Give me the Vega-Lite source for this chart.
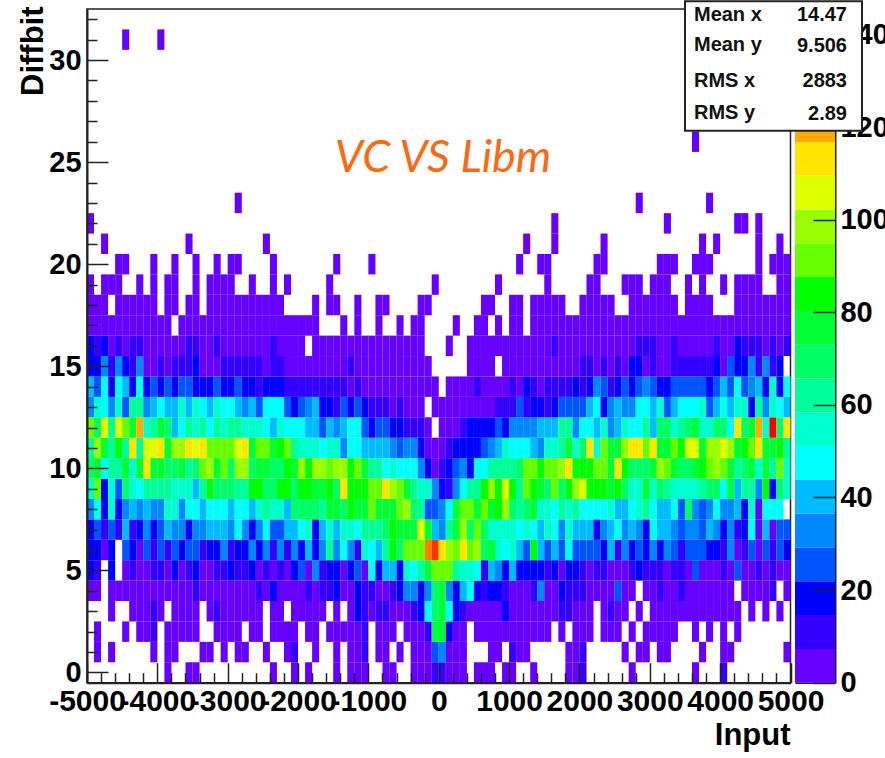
{"$schema":"https://vega.github.io/schema/vega-lite/v6.json","padding":{"left":16,"top":0,"right":0,"bottom":0},"background":"white","config":{"font":"Liberation Sans"},"spacing":4,"bounds":"flush","hconcat":[{"width":703.5,"height":673.7,"view":{"stroke":"#222","strokeWidth":1.5},"data":{"values":[
{"x":-3850,"y":0,"n":4},{"x":-3550,"y":0,"n":4},{"x":-3450,"y":0,"n":4},{"x":-2350,"y":0,"n":4},{"x":-2050,"y":0,"n":4},{"x":-1850,"y":0,"n":4},{"x":-1450,"y":0,"n":4},{"x":-1250,"y":0,"n":4},{"x":-1150,"y":0,"n":4},{"x":-1050,"y":0,"n":4},{"x":-750,"y":0,"n":4},{"x":-650,"y":0,"n":4},{"x":-350,"y":0,"n":4},{"x":-250,"y":0,"n":4},{"x":-150,"y":0,"n":4},{"x":-50,"y":0,"n":11},{"x":50,"y":0,"n":11},{"x":150,"y":0,"n":4},{"x":250,"y":0,"n":4},{"x":350,"y":0,"n":4},{"x":550,"y":0,"n":4},{"x":650,"y":0,"n":4},{"x":750,"y":0,"n":4},{"x":950,"y":0,"n":4},{"x":1050,"y":0,"n":4},{"x":1350,"y":0,"n":4},{"x":1850,"y":0,"n":4},{"x":1950,"y":0,"n":4},{"x":2050,"y":0,"n":11},{"x":2750,"y":0,"n":4},{"x":3650,"y":0,"n":4},{"x":4050,"y":0,"n":11},
{"x":-4850,"y":1,"n":4},{"x":-4650,"y":1,"n":4},{"x":-4050,"y":1,"n":4},{"x":-3850,"y":1,"n":4},{"x":-3750,"y":1,"n":4},{"x":-3350,"y":1,"n":4},{"x":-3250,"y":1,"n":4},{"x":-3050,"y":1,"n":4},{"x":-2850,"y":1,"n":4},{"x":-2750,"y":1,"n":4},{"x":-2450,"y":1,"n":4},{"x":-2150,"y":1,"n":4},{"x":-2050,"y":1,"n":11},{"x":-1750,"y":1,"n":4},{"x":-1450,"y":1,"n":4},{"x":-1250,"y":1,"n":4},{"x":-1150,"y":1,"n":4},{"x":-1050,"y":1,"n":11},{"x":-850,"y":1,"n":4},{"x":-750,"y":1,"n":4},{"x":-550,"y":1,"n":4},{"x":-350,"y":1,"n":4},{"x":-250,"y":1,"n":4},{"x":-150,"y":1,"n":4},{"x":-50,"y":1,"n":26},{"x":50,"y":1,"n":33},{"x":150,"y":1,"n":4},{"x":250,"y":1,"n":4},{"x":350,"y":1,"n":4},{"x":750,"y":1,"n":4},{"x":850,"y":1,"n":4},{"x":1050,"y":1,"n":11},{"x":1150,"y":1,"n":4},{"x":1250,"y":1,"n":4},{"x":1850,"y":1,"n":4},{"x":1950,"y":1,"n":4},{"x":2050,"y":1,"n":11},{"x":2650,"y":1,"n":4},{"x":2850,"y":1,"n":4},{"x":2950,"y":1,"n":4},{"x":3150,"y":1,"n":4},{"x":3250,"y":1,"n":4},{"x":3750,"y":1,"n":4},{"x":4050,"y":1,"n":4},{"x":4150,"y":1,"n":4},{"x":4950,"y":1,"n":4},
{"x":-4850,"y":2,"n":4},{"x":-4450,"y":2,"n":4},{"x":-4250,"y":2,"n":4},{"x":-4150,"y":2,"n":4},{"x":-4050,"y":2,"n":11},{"x":-3850,"y":2,"n":4},{"x":-3750,"y":2,"n":4},{"x":-3650,"y":2,"n":4},{"x":-3550,"y":2,"n":4},{"x":-3450,"y":2,"n":4},{"x":-3150,"y":2,"n":4},{"x":-3050,"y":2,"n":4},{"x":-2950,"y":2,"n":4},{"x":-2850,"y":2,"n":4},{"x":-2650,"y":2,"n":4},{"x":-2550,"y":2,"n":4},{"x":-2350,"y":2,"n":4},{"x":-2250,"y":2,"n":4},{"x":-2150,"y":2,"n":4},{"x":-2050,"y":2,"n":4},{"x":-1850,"y":2,"n":4},{"x":-1750,"y":2,"n":4},{"x":-1550,"y":2,"n":4},{"x":-1450,"y":2,"n":4},{"x":-1350,"y":2,"n":4},{"x":-1250,"y":2,"n":4},{"x":-1150,"y":2,"n":4},{"x":-1050,"y":2,"n":11},{"x":-850,"y":2,"n":4},{"x":-750,"y":2,"n":4},{"x":-650,"y":2,"n":4},{"x":-450,"y":2,"n":4},{"x":-350,"y":2,"n":4},{"x":-250,"y":2,"n":4},{"x":-150,"y":2,"n":11},{"x":-50,"y":2,"n":77},{"x":50,"y":2,"n":77},{"x":150,"y":2,"n":18},{"x":250,"y":2,"n":4},{"x":350,"y":2,"n":4},{"x":550,"y":2,"n":4},{"x":650,"y":2,"n":4},{"x":750,"y":2,"n":4},{"x":850,"y":2,"n":4},{"x":950,"y":2,"n":4},{"x":1050,"y":2,"n":4},{"x":1150,"y":2,"n":4},{"x":1250,"y":2,"n":4},{"x":1350,"y":2,"n":4},{"x":1450,"y":2,"n":4},{"x":1550,"y":2,"n":4},{"x":1750,"y":2,"n":4},{"x":1950,"y":2,"n":4},{"x":2050,"y":2,"n":4},{"x":2150,"y":2,"n":4},{"x":2350,"y":2,"n":4},{"x":2450,"y":2,"n":4},{"x":2550,"y":2,"n":4},{"x":2750,"y":2,"n":4},{"x":2950,"y":2,"n":4},{"x":3050,"y":2,"n":4},{"x":3150,"y":2,"n":4},{"x":3250,"y":2,"n":4},{"x":3350,"y":2,"n":4},{"x":3650,"y":2,"n":4},{"x":3850,"y":2,"n":4},{"x":4050,"y":2,"n":4},{"x":4250,"y":2,"n":4},
{"x":-4650,"y":3,"n":4},{"x":-4350,"y":3,"n":4},{"x":-4250,"y":3,"n":4},{"x":-4150,"y":3,"n":4},{"x":-4050,"y":3,"n":11},{"x":-3950,"y":3,"n":4},{"x":-3750,"y":3,"n":4},{"x":-3650,"y":3,"n":4},{"x":-3550,"y":3,"n":4},{"x":-3450,"y":3,"n":4},{"x":-3250,"y":3,"n":4},{"x":-3150,"y":3,"n":11},{"x":-3050,"y":3,"n":4},{"x":-2950,"y":3,"n":4},{"x":-2850,"y":3,"n":4},{"x":-2750,"y":3,"n":4},{"x":-2650,"y":3,"n":4},{"x":-2550,"y":3,"n":4},{"x":-2350,"y":3,"n":4},{"x":-2250,"y":3,"n":4},{"x":-2050,"y":3,"n":4},{"x":-1950,"y":3,"n":4},{"x":-1850,"y":3,"n":4},{"x":-1750,"y":3,"n":4},{"x":-1650,"y":3,"n":4},{"x":-1450,"y":3,"n":4},{"x":-1250,"y":3,"n":4},{"x":-1150,"y":3,"n":18},{"x":-1050,"y":3,"n":11},{"x":-950,"y":3,"n":4},{"x":-850,"y":3,"n":11},{"x":-750,"y":3,"n":11},{"x":-650,"y":3,"n":4},{"x":-550,"y":3,"n":4},{"x":-450,"y":3,"n":4},{"x":-350,"y":3,"n":11},{"x":-250,"y":3,"n":18},{"x":-150,"y":3,"n":47},{"x":-50,"y":3,"n":69},{"x":50,"y":3,"n":77},{"x":150,"y":3,"n":47},{"x":250,"y":3,"n":18},{"x":350,"y":3,"n":11},{"x":450,"y":3,"n":4},{"x":550,"y":3,"n":4},{"x":650,"y":3,"n":4},{"x":750,"y":3,"n":4},{"x":850,"y":3,"n":4},{"x":950,"y":3,"n":18},{"x":1050,"y":3,"n":4},{"x":1150,"y":3,"n":4},{"x":1250,"y":3,"n":4},{"x":1350,"y":3,"n":4},{"x":1450,"y":3,"n":4},{"x":1550,"y":3,"n":4},{"x":1650,"y":3,"n":4},{"x":1750,"y":3,"n":11},{"x":1850,"y":3,"n":11},{"x":1950,"y":3,"n":4},{"x":2050,"y":3,"n":4},{"x":2150,"y":3,"n":4},{"x":2350,"y":3,"n":4},{"x":2450,"y":3,"n":11},{"x":2550,"y":3,"n":4},{"x":2650,"y":3,"n":4},{"x":2850,"y":3,"n":4},{"x":3050,"y":3,"n":4},{"x":3150,"y":3,"n":4},{"x":3250,"y":3,"n":4},{"x":3350,"y":3,"n":4},{"x":3450,"y":3,"n":4},{"x":3550,"y":3,"n":4},{"x":3650,"y":3,"n":4},{"x":3750,"y":3,"n":4},{"x":3850,"y":3,"n":4},{"x":3950,"y":3,"n":4},{"x":4050,"y":3,"n":4},{"x":4150,"y":3,"n":4},{"x":4250,"y":3,"n":4},{"x":4450,"y":3,"n":4},{"x":4650,"y":3,"n":4},{"x":4850,"y":3,"n":4},
{"x":-4950,"y":4,"n":4},{"x":-4850,"y":4,"n":4},{"x":-4650,"y":4,"n":4},{"x":-4550,"y":4,"n":4},{"x":-4450,"y":4,"n":4},{"x":-4350,"y":4,"n":4},{"x":-4250,"y":4,"n":4},{"x":-4150,"y":4,"n":4},{"x":-4050,"y":4,"n":4},{"x":-3950,"y":4,"n":4},{"x":-3850,"y":4,"n":4},{"x":-3750,"y":4,"n":4},{"x":-3650,"y":4,"n":4},{"x":-3550,"y":4,"n":4},{"x":-3450,"y":4,"n":11},{"x":-3350,"y":4,"n":4},{"x":-3250,"y":4,"n":4},{"x":-3150,"y":4,"n":4},{"x":-3050,"y":4,"n":4},{"x":-2950,"y":4,"n":4},{"x":-2850,"y":4,"n":4},{"x":-2750,"y":4,"n":4},{"x":-2650,"y":4,"n":4},{"x":-2550,"y":4,"n":11},{"x":-2450,"y":4,"n":4},{"x":-2350,"y":4,"n":18},{"x":-2250,"y":4,"n":4},{"x":-2150,"y":4,"n":4},{"x":-2050,"y":4,"n":4},{"x":-1950,"y":4,"n":4},{"x":-1850,"y":4,"n":11},{"x":-1750,"y":4,"n":4},{"x":-1650,"y":4,"n":11},{"x":-1550,"y":4,"n":11},{"x":-1450,"y":4,"n":18},{"x":-1350,"y":4,"n":4},{"x":-1250,"y":4,"n":4},{"x":-1150,"y":4,"n":18},{"x":-1050,"y":4,"n":11},{"x":-950,"y":4,"n":11},{"x":-850,"y":4,"n":4},{"x":-750,"y":4,"n":4},{"x":-650,"y":4,"n":11},{"x":-550,"y":4,"n":18},{"x":-450,"y":4,"n":33},{"x":-350,"y":4,"n":33},{"x":-250,"y":4,"n":18},{"x":-150,"y":4,"n":33},{"x":-50,"y":4,"n":69},{"x":50,"y":4,"n":77},{"x":150,"y":4,"n":33},{"x":250,"y":4,"n":18},{"x":350,"y":4,"n":40},{"x":450,"y":4,"n":47},{"x":550,"y":4,"n":18},{"x":650,"y":4,"n":11},{"x":750,"y":4,"n":18},{"x":850,"y":4,"n":18},{"x":950,"y":4,"n":11},{"x":1050,"y":4,"n":4},{"x":1150,"y":4,"n":4},{"x":1250,"y":4,"n":4},{"x":1350,"y":4,"n":11},{"x":1450,"y":4,"n":33},{"x":1550,"y":4,"n":4},{"x":1650,"y":4,"n":4},{"x":1750,"y":4,"n":18},{"x":1850,"y":4,"n":11},{"x":1950,"y":4,"n":11},{"x":2050,"y":4,"n":11},{"x":2150,"y":4,"n":4},{"x":2250,"y":4,"n":4},{"x":2350,"y":4,"n":4},{"x":2450,"y":4,"n":4},{"x":2550,"y":4,"n":26},{"x":2650,"y":4,"n":4},{"x":2750,"y":4,"n":4},{"x":2950,"y":4,"n":4},{"x":3050,"y":4,"n":4},{"x":3150,"y":4,"n":11},{"x":3250,"y":4,"n":4},{"x":3350,"y":4,"n":4},{"x":3450,"y":4,"n":11},{"x":3550,"y":4,"n":4},{"x":3650,"y":4,"n":4},{"x":3750,"y":4,"n":4},{"x":3850,"y":4,"n":4},{"x":3950,"y":4,"n":4},{"x":4050,"y":4,"n":4},{"x":4150,"y":4,"n":4},{"x":4350,"y":4,"n":4},{"x":4450,"y":4,"n":4},{"x":4550,"y":4,"n":4},{"x":4650,"y":4,"n":4},{"x":4750,"y":4,"n":11},{"x":4950,"y":4,"n":4},
{"x":-4950,"y":5,"n":18},{"x":-4850,"y":5,"n":11},{"x":-4650,"y":5,"n":18},{"x":-4450,"y":5,"n":4},{"x":-4350,"y":5,"n":11},{"x":-4250,"y":5,"n":4},{"x":-4150,"y":5,"n":4},{"x":-4050,"y":5,"n":11},{"x":-3950,"y":5,"n":11},{"x":-3850,"y":5,"n":4},{"x":-3750,"y":5,"n":18},{"x":-3650,"y":5,"n":4},{"x":-3550,"y":5,"n":11},{"x":-3450,"y":5,"n":18},{"x":-3350,"y":5,"n":4},{"x":-3250,"y":5,"n":4},{"x":-3150,"y":5,"n":11},{"x":-3050,"y":5,"n":11},{"x":-2950,"y":5,"n":18},{"x":-2850,"y":5,"n":11},{"x":-2750,"y":5,"n":11},{"x":-2650,"y":5,"n":18},{"x":-2550,"y":5,"n":4},{"x":-2450,"y":5,"n":11},{"x":-2350,"y":5,"n":4},{"x":-2250,"y":5,"n":11},{"x":-2150,"y":5,"n":4},{"x":-2050,"y":5,"n":18},{"x":-1950,"y":5,"n":26},{"x":-1850,"y":5,"n":4},{"x":-1750,"y":5,"n":33},{"x":-1650,"y":5,"n":11},{"x":-1550,"y":5,"n":18},{"x":-1450,"y":5,"n":18},{"x":-1350,"y":5,"n":4},{"x":-1250,"y":5,"n":18},{"x":-1150,"y":5,"n":26},{"x":-1050,"y":5,"n":4},{"x":-950,"y":5,"n":47},{"x":-850,"y":5,"n":18},{"x":-750,"y":5,"n":40},{"x":-650,"y":5,"n":40},{"x":-550,"y":5,"n":18},{"x":-450,"y":5,"n":55},{"x":-350,"y":5,"n":47},{"x":-250,"y":5,"n":62},{"x":-150,"y":5,"n":77},{"x":-50,"y":5,"n":91},{"x":50,"y":5,"n":91},{"x":150,"y":5,"n":91},{"x":250,"y":5,"n":62},{"x":350,"y":5,"n":55},{"x":450,"y":5,"n":55},{"x":550,"y":5,"n":47},{"x":650,"y":5,"n":11},{"x":750,"y":5,"n":40},{"x":850,"y":5,"n":33},{"x":950,"y":5,"n":18},{"x":1050,"y":5,"n":40},{"x":1150,"y":5,"n":18},{"x":1250,"y":5,"n":18},{"x":1350,"y":5,"n":18},{"x":1450,"y":5,"n":18},{"x":1550,"y":5,"n":11},{"x":1650,"y":5,"n":18},{"x":1750,"y":5,"n":4},{"x":1850,"y":5,"n":18},{"x":1950,"y":5,"n":18},{"x":2050,"y":5,"n":11},{"x":2150,"y":5,"n":4},{"x":2250,"y":5,"n":11},{"x":2350,"y":5,"n":11},{"x":2450,"y":5,"n":4},{"x":2550,"y":5,"n":4},{"x":2650,"y":5,"n":4},{"x":2750,"y":5,"n":11},{"x":2850,"y":5,"n":18},{"x":2950,"y":5,"n":11},{"x":3050,"y":5,"n":11},{"x":3150,"y":5,"n":11},{"x":3250,"y":5,"n":4},{"x":3350,"y":5,"n":11},{"x":3450,"y":5,"n":11},{"x":3550,"y":5,"n":4},{"x":3650,"y":5,"n":26},{"x":3750,"y":5,"n":4},{"x":3850,"y":5,"n":4},{"x":3950,"y":5,"n":4},{"x":4050,"y":5,"n":11},{"x":4150,"y":5,"n":4},{"x":4250,"y":5,"n":26},{"x":4350,"y":5,"n":4},{"x":4450,"y":5,"n":4},{"x":4550,"y":5,"n":11},{"x":4650,"y":5,"n":4},{"x":4750,"y":5,"n":11},{"x":4850,"y":5,"n":4},{"x":4950,"y":5,"n":4},
{"x":-4950,"y":6,"n":18},{"x":-4850,"y":6,"n":18},{"x":-4750,"y":6,"n":4},{"x":-4650,"y":6,"n":18},{"x":-4450,"y":6,"n":26},{"x":-4350,"y":6,"n":18},{"x":-4250,"y":6,"n":4},{"x":-4150,"y":6,"n":26},{"x":-4050,"y":6,"n":11},{"x":-3950,"y":6,"n":26},{"x":-3850,"y":6,"n":11},{"x":-3750,"y":6,"n":26},{"x":-3650,"y":6,"n":18},{"x":-3550,"y":6,"n":26},{"x":-3450,"y":6,"n":26},{"x":-3350,"y":6,"n":11},{"x":-3250,"y":6,"n":18},{"x":-3150,"y":6,"n":18},{"x":-3050,"y":6,"n":33},{"x":-2950,"y":6,"n":11},{"x":-2850,"y":6,"n":18},{"x":-2750,"y":6,"n":18},{"x":-2650,"y":6,"n":33},{"x":-2550,"y":6,"n":18},{"x":-2450,"y":6,"n":33},{"x":-2350,"y":6,"n":11},{"x":-2250,"y":6,"n":33},{"x":-2150,"y":6,"n":11},{"x":-2050,"y":6,"n":33},{"x":-1950,"y":6,"n":18},{"x":-1850,"y":6,"n":40},{"x":-1750,"y":6,"n":18},{"x":-1650,"y":6,"n":33},{"x":-1550,"y":6,"n":62},{"x":-1450,"y":6,"n":33},{"x":-1350,"y":6,"n":47},{"x":-1250,"y":6,"n":33},{"x":-1150,"y":6,"n":11},{"x":-1050,"y":6,"n":55},{"x":-950,"y":6,"n":47},{"x":-850,"y":6,"n":40},{"x":-750,"y":6,"n":62},{"x":-650,"y":6,"n":84},{"x":-550,"y":6,"n":69},{"x":-450,"y":6,"n":91},{"x":-350,"y":6,"n":91},{"x":-250,"y":6,"n":91},{"x":-150,"y":6,"n":128},{"x":-50,"y":6,"n":135},{"x":50,"y":6,"n":113},{"x":150,"y":6,"n":99},{"x":250,"y":6,"n":91},{"x":350,"y":6,"n":113},{"x":450,"y":6,"n":91},{"x":550,"y":6,"n":99},{"x":650,"y":6,"n":69},{"x":750,"y":6,"n":77},{"x":850,"y":6,"n":55},{"x":950,"y":6,"n":47},{"x":1050,"y":6,"n":55},{"x":1150,"y":6,"n":40},{"x":1250,"y":6,"n":26},{"x":1350,"y":6,"n":84},{"x":1450,"y":6,"n":40},{"x":1550,"y":6,"n":26},{"x":1650,"y":6,"n":40},{"x":1750,"y":6,"n":26},{"x":1850,"y":6,"n":47},{"x":1950,"y":6,"n":26},{"x":2050,"y":6,"n":26},{"x":2150,"y":6,"n":26},{"x":2250,"y":6,"n":26},{"x":2350,"y":6,"n":18},{"x":2450,"y":6,"n":40},{"x":2550,"y":6,"n":11},{"x":2650,"y":6,"n":33},{"x":2750,"y":6,"n":18},{"x":2850,"y":6,"n":26},{"x":2950,"y":6,"n":18},{"x":3050,"y":6,"n":33},{"x":3150,"y":6,"n":18},{"x":3250,"y":6,"n":33},{"x":3350,"y":6,"n":26},{"x":3450,"y":6,"n":11},{"x":3550,"y":6,"n":26},{"x":3650,"y":6,"n":26},{"x":3750,"y":6,"n":26},{"x":3850,"y":6,"n":18},{"x":3950,"y":6,"n":18},{"x":4050,"y":6,"n":11},{"x":4150,"y":6,"n":33},{"x":4250,"y":6,"n":4},{"x":4350,"y":6,"n":11},{"x":4450,"y":6,"n":26},{"x":4550,"y":6,"n":4},{"x":4650,"y":6,"n":26},{"x":4750,"y":6,"n":11},{"x":4850,"y":6,"n":26},{"x":4950,"y":6,"n":18},
{"x":-4950,"y":7,"n":18},{"x":-4850,"y":7,"n":26},{"x":-4750,"y":7,"n":11},{"x":-4650,"y":7,"n":26},{"x":-4550,"y":7,"n":11},{"x":-4450,"y":7,"n":40},{"x":-4350,"y":7,"n":11},{"x":-4250,"y":7,"n":18},{"x":-4150,"y":7,"n":33},{"x":-4050,"y":7,"n":18},{"x":-3950,"y":7,"n":26},{"x":-3850,"y":7,"n":40},{"x":-3750,"y":7,"n":33},{"x":-3650,"y":7,"n":33},{"x":-3550,"y":7,"n":18},{"x":-3450,"y":7,"n":33},{"x":-3350,"y":7,"n":33},{"x":-3250,"y":7,"n":40},{"x":-3150,"y":7,"n":40},{"x":-3050,"y":7,"n":40},{"x":-2950,"y":7,"n":33},{"x":-2850,"y":7,"n":47},{"x":-2750,"y":7,"n":33},{"x":-2650,"y":7,"n":18},{"x":-2550,"y":7,"n":33},{"x":-2450,"y":7,"n":47},{"x":-2350,"y":7,"n":26},{"x":-2250,"y":7,"n":26},{"x":-2150,"y":7,"n":40},{"x":-2050,"y":7,"n":40},{"x":-1950,"y":7,"n":47},{"x":-1850,"y":7,"n":55},{"x":-1750,"y":7,"n":18},{"x":-1650,"y":7,"n":40},{"x":-1550,"y":7,"n":55},{"x":-1450,"y":7,"n":40},{"x":-1350,"y":7,"n":55},{"x":-1250,"y":7,"n":55},{"x":-1150,"y":7,"n":47},{"x":-1050,"y":7,"n":62},{"x":-950,"y":7,"n":62},{"x":-850,"y":7,"n":62},{"x":-750,"y":7,"n":69},{"x":-650,"y":7,"n":84},{"x":-550,"y":7,"n":77},{"x":-450,"y":7,"n":77},{"x":-350,"y":7,"n":77},{"x":-250,"y":7,"n":106},{"x":-150,"y":7,"n":77},{"x":-50,"y":7,"n":40},{"x":50,"y":7,"n":33},{"x":150,"y":7,"n":62},{"x":250,"y":7,"n":77},{"x":350,"y":7,"n":99},{"x":450,"y":7,"n":69},{"x":550,"y":7,"n":91},{"x":650,"y":7,"n":69},{"x":750,"y":7,"n":55},{"x":850,"y":7,"n":55},{"x":950,"y":7,"n":55},{"x":1050,"y":7,"n":55},{"x":1150,"y":7,"n":47},{"x":1250,"y":7,"n":55},{"x":1350,"y":7,"n":47},{"x":1450,"y":7,"n":40},{"x":1550,"y":7,"n":55},{"x":1650,"y":7,"n":47},{"x":1750,"y":7,"n":33},{"x":1850,"y":7,"n":55},{"x":1950,"y":7,"n":40},{"x":2050,"y":7,"n":40},{"x":2150,"y":7,"n":40},{"x":2250,"y":7,"n":18},{"x":2350,"y":7,"n":33},{"x":2450,"y":7,"n":40},{"x":2550,"y":7,"n":47},{"x":2650,"y":7,"n":33},{"x":2750,"y":7,"n":40},{"x":2850,"y":7,"n":33},{"x":2950,"y":7,"n":18},{"x":3050,"y":7,"n":47},{"x":3150,"y":7,"n":40},{"x":3250,"y":7,"n":40},{"x":3350,"y":7,"n":33},{"x":3450,"y":7,"n":26},{"x":3550,"y":7,"n":33},{"x":3650,"y":7,"n":33},{"x":3750,"y":7,"n":26},{"x":3850,"y":7,"n":40},{"x":3950,"y":7,"n":33},{"x":4050,"y":7,"n":18},{"x":4150,"y":7,"n":33},{"x":4250,"y":7,"n":11},{"x":4350,"y":7,"n":18},{"x":4450,"y":7,"n":47},{"x":4550,"y":7,"n":4},{"x":4650,"y":7,"n":40},{"x":4750,"y":7,"n":4},{"x":4850,"y":7,"n":26},{"x":4950,"y":7,"n":26},
{"x":-4950,"y":8,"n":33},{"x":-4850,"y":8,"n":47},{"x":-4750,"y":8,"n":18},{"x":-4650,"y":8,"n":55},{"x":-4550,"y":8,"n":18},{"x":-4450,"y":8,"n":33},{"x":-4350,"y":8,"n":40},{"x":-4250,"y":8,"n":33},{"x":-4150,"y":8,"n":40},{"x":-4050,"y":8,"n":33},{"x":-3950,"y":8,"n":33},{"x":-3850,"y":8,"n":55},{"x":-3750,"y":8,"n":55},{"x":-3650,"y":8,"n":33},{"x":-3550,"y":8,"n":47},{"x":-3450,"y":8,"n":47},{"x":-3350,"y":8,"n":40},{"x":-3250,"y":8,"n":47},{"x":-3150,"y":8,"n":47},{"x":-3050,"y":8,"n":47},{"x":-2950,"y":8,"n":40},{"x":-2850,"y":8,"n":47},{"x":-2750,"y":8,"n":47},{"x":-2650,"y":8,"n":40},{"x":-2550,"y":8,"n":55},{"x":-2450,"y":8,"n":62},{"x":-2350,"y":8,"n":55},{"x":-2250,"y":8,"n":55},{"x":-2150,"y":8,"n":40},{"x":-2050,"y":8,"n":69},{"x":-1950,"y":8,"n":69},{"x":-1850,"y":8,"n":69},{"x":-1750,"y":8,"n":69},{"x":-1650,"y":8,"n":62},{"x":-1550,"y":8,"n":77},{"x":-1450,"y":8,"n":77},{"x":-1350,"y":8,"n":69},{"x":-1250,"y":8,"n":84},{"x":-1150,"y":8,"n":77},{"x":-1050,"y":8,"n":77},{"x":-950,"y":8,"n":91},{"x":-850,"y":8,"n":77},{"x":-750,"y":8,"n":77},{"x":-650,"y":8,"n":77},{"x":-550,"y":8,"n":91},{"x":-450,"y":8,"n":99},{"x":-350,"y":8,"n":69},{"x":-250,"y":8,"n":62},{"x":-150,"y":8,"n":26},{"x":-50,"y":8,"n":26},{"x":50,"y":8,"n":33},{"x":150,"y":8,"n":47},{"x":250,"y":8,"n":77},{"x":350,"y":8,"n":91},{"x":450,"y":8,"n":91},{"x":550,"y":8,"n":77},{"x":650,"y":8,"n":91},{"x":750,"y":8,"n":77},{"x":850,"y":8,"n":84},{"x":950,"y":8,"n":99},{"x":1050,"y":8,"n":69},{"x":1150,"y":8,"n":62},{"x":1250,"y":8,"n":69},{"x":1350,"y":8,"n":77},{"x":1450,"y":8,"n":55},{"x":1550,"y":8,"n":55},{"x":1650,"y":8,"n":47},{"x":1750,"y":8,"n":62},{"x":1850,"y":8,"n":55},{"x":1950,"y":8,"n":62},{"x":2050,"y":8,"n":47},{"x":2150,"y":8,"n":47},{"x":2250,"y":8,"n":47},{"x":2350,"y":8,"n":47},{"x":2450,"y":8,"n":55},{"x":2550,"y":8,"n":40},{"x":2650,"y":8,"n":40},{"x":2750,"y":8,"n":47},{"x":2850,"y":8,"n":55},{"x":2950,"y":8,"n":62},{"x":3050,"y":8,"n":47},{"x":3150,"y":8,"n":40},{"x":3250,"y":8,"n":40},{"x":3350,"y":8,"n":47},{"x":3450,"y":8,"n":26},{"x":3550,"y":8,"n":69},{"x":3650,"y":8,"n":33},{"x":3750,"y":8,"n":26},{"x":3850,"y":8,"n":33},{"x":3950,"y":8,"n":47},{"x":4050,"y":8,"n":33},{"x":4150,"y":8,"n":33},{"x":4250,"y":8,"n":40},{"x":4350,"y":8,"n":18},{"x":4450,"y":8,"n":55},{"x":4550,"y":8,"n":4},{"x":4650,"y":8,"n":47},{"x":4750,"y":8,"n":47},{"x":4850,"y":8,"n":47},
{"x":-4950,"y":9,"n":55},{"x":-4850,"y":9,"n":91},{"x":-4750,"y":9,"n":18},{"x":-4650,"y":9,"n":55},{"x":-4550,"y":9,"n":26},{"x":-4450,"y":9,"n":69},{"x":-4350,"y":9,"n":55},{"x":-4250,"y":9,"n":47},{"x":-4150,"y":9,"n":62},{"x":-4050,"y":9,"n":62},{"x":-3950,"y":9,"n":62},{"x":-3850,"y":9,"n":62},{"x":-3750,"y":9,"n":55},{"x":-3650,"y":9,"n":55},{"x":-3550,"y":9,"n":55},{"x":-3450,"y":9,"n":40},{"x":-3350,"y":9,"n":62},{"x":-3250,"y":9,"n":84},{"x":-3150,"y":9,"n":69},{"x":-3050,"y":9,"n":69},{"x":-2950,"y":9,"n":69},{"x":-2850,"y":9,"n":62},{"x":-2750,"y":9,"n":62},{"x":-2650,"y":9,"n":84},{"x":-2550,"y":9,"n":84},{"x":-2450,"y":9,"n":69},{"x":-2350,"y":9,"n":69},{"x":-2250,"y":9,"n":84},{"x":-2150,"y":9,"n":84},{"x":-2050,"y":9,"n":69},{"x":-1950,"y":9,"n":84},{"x":-1850,"y":9,"n":84},{"x":-1750,"y":9,"n":77},{"x":-1650,"y":9,"n":77},{"x":-1550,"y":9,"n":84},{"x":-1450,"y":9,"n":69},{"x":-1350,"y":9,"n":113},{"x":-1250,"y":9,"n":84},{"x":-1150,"y":9,"n":84},{"x":-1050,"y":9,"n":84},{"x":-950,"y":9,"n":91},{"x":-850,"y":9,"n":91},{"x":-750,"y":9,"n":113},{"x":-650,"y":9,"n":99},{"x":-550,"y":9,"n":91},{"x":-450,"y":9,"n":77},{"x":-350,"y":9,"n":62},{"x":-250,"y":9,"n":55},{"x":-150,"y":9,"n":55},{"x":-50,"y":9,"n":33},{"x":50,"y":9,"n":18},{"x":150,"y":9,"n":11},{"x":250,"y":9,"n":33},{"x":350,"y":9,"n":47},{"x":450,"y":9,"n":62},{"x":550,"y":9,"n":62},{"x":650,"y":9,"n":84},{"x":750,"y":9,"n":99},{"x":850,"y":9,"n":84},{"x":950,"y":9,"n":106},{"x":1050,"y":9,"n":84},{"x":1150,"y":9,"n":62},{"x":1250,"y":9,"n":91},{"x":1350,"y":9,"n":84},{"x":1450,"y":9,"n":77},{"x":1550,"y":9,"n":69},{"x":1650,"y":9,"n":91},{"x":1750,"y":9,"n":69},{"x":1850,"y":9,"n":84},{"x":1950,"y":9,"n":99},{"x":2050,"y":9,"n":106},{"x":2150,"y":9,"n":84},{"x":2250,"y":9,"n":84},{"x":2350,"y":9,"n":84},{"x":2450,"y":9,"n":77},{"x":2550,"y":9,"n":84},{"x":2650,"y":9,"n":69},{"x":2750,"y":9,"n":55},{"x":2850,"y":9,"n":55},{"x":2950,"y":9,"n":77},{"x":3050,"y":9,"n":55},{"x":3150,"y":9,"n":69},{"x":3250,"y":9,"n":62},{"x":3350,"y":9,"n":55},{"x":3450,"y":9,"n":55},{"x":3550,"y":9,"n":55},{"x":3650,"y":9,"n":55},{"x":3750,"y":9,"n":62},{"x":3850,"y":9,"n":69},{"x":3950,"y":9,"n":69},{"x":4050,"y":9,"n":47},{"x":4150,"y":9,"n":77},{"x":4250,"y":9,"n":40},{"x":4350,"y":9,"n":62},{"x":4450,"y":9,"n":62},{"x":4550,"y":9,"n":33},{"x":4650,"y":9,"n":84},{"x":4750,"y":9,"n":18},{"x":4850,"y":9,"n":69},{"x":4950,"y":9,"n":55},
{"x":-4950,"y":10,"n":69},{"x":-4850,"y":10,"n":77},{"x":-4750,"y":10,"n":47},{"x":-4650,"y":10,"n":62},{"x":-4550,"y":10,"n":62},{"x":-4450,"y":10,"n":77},{"x":-4350,"y":10,"n":55},{"x":-4250,"y":10,"n":77},{"x":-4150,"y":10,"n":113},{"x":-4050,"y":10,"n":77},{"x":-3950,"y":10,"n":77},{"x":-3850,"y":10,"n":69},{"x":-3750,"y":10,"n":69},{"x":-3650,"y":10,"n":77},{"x":-3550,"y":10,"n":62},{"x":-3450,"y":10,"n":69},{"x":-3350,"y":10,"n":91},{"x":-3250,"y":10,"n":99},{"x":-3150,"y":10,"n":77},{"x":-3050,"y":10,"n":91},{"x":-2950,"y":10,"n":69},{"x":-2850,"y":10,"n":99},{"x":-2750,"y":10,"n":99},{"x":-2650,"y":10,"n":69},{"x":-2550,"y":10,"n":77},{"x":-2450,"y":10,"n":77},{"x":-2350,"y":10,"n":69},{"x":-2250,"y":10,"n":69},{"x":-2150,"y":10,"n":84},{"x":-2050,"y":10,"n":77},{"x":-1950,"y":10,"n":99},{"x":-1850,"y":10,"n":84},{"x":-1750,"y":10,"n":99},{"x":-1650,"y":10,"n":99},{"x":-1550,"y":10,"n":91},{"x":-1450,"y":10,"n":99},{"x":-1350,"y":10,"n":99},{"x":-1250,"y":10,"n":84},{"x":-1150,"y":10,"n":91},{"x":-1050,"y":10,"n":77},{"x":-950,"y":10,"n":62},{"x":-850,"y":10,"n":62},{"x":-750,"y":10,"n":47},{"x":-650,"y":10,"n":55},{"x":-550,"y":10,"n":47},{"x":-450,"y":10,"n":47},{"x":-350,"y":10,"n":47},{"x":-250,"y":10,"n":33},{"x":-150,"y":10,"n":18},{"x":-50,"y":10,"n":4},{"x":50,"y":10,"n":11},{"x":150,"y":10,"n":18},{"x":250,"y":10,"n":26},{"x":350,"y":10,"n":33},{"x":450,"y":10,"n":18},{"x":550,"y":10,"n":47},{"x":650,"y":10,"n":47},{"x":750,"y":10,"n":62},{"x":850,"y":10,"n":62},{"x":950,"y":10,"n":62},{"x":1050,"y":10,"n":62},{"x":1150,"y":10,"n":69},{"x":1250,"y":10,"n":91},{"x":1350,"y":10,"n":91},{"x":1450,"y":10,"n":84},{"x":1550,"y":10,"n":91},{"x":1650,"y":10,"n":91},{"x":1750,"y":10,"n":99},{"x":1850,"y":10,"n":113},{"x":1950,"y":10,"n":84},{"x":2050,"y":10,"n":84},{"x":2150,"y":10,"n":84},{"x":2250,"y":10,"n":91},{"x":2350,"y":10,"n":91},{"x":2450,"y":10,"n":77},{"x":2550,"y":10,"n":113},{"x":2650,"y":10,"n":84},{"x":2750,"y":10,"n":69},{"x":2850,"y":10,"n":69},{"x":2950,"y":10,"n":69},{"x":3050,"y":10,"n":77},{"x":3150,"y":10,"n":99},{"x":3250,"y":10,"n":91},{"x":3350,"y":10,"n":77},{"x":3450,"y":10,"n":69},{"x":3550,"y":10,"n":69},{"x":3650,"y":10,"n":77},{"x":3750,"y":10,"n":84},{"x":3850,"y":10,"n":91},{"x":3950,"y":10,"n":99},{"x":4050,"y":10,"n":91},{"x":4150,"y":10,"n":77},{"x":4250,"y":10,"n":62},{"x":4350,"y":10,"n":69},{"x":4450,"y":10,"n":77},{"x":4550,"y":10,"n":55},{"x":4650,"y":10,"n":77},{"x":4750,"y":10,"n":62},{"x":4850,"y":10,"n":91},{"x":4950,"y":10,"n":55},
{"x":-4950,"y":11,"n":62},{"x":-4850,"y":11,"n":99},{"x":-4750,"y":11,"n":77},{"x":-4650,"y":11,"n":62},{"x":-4550,"y":11,"n":84},{"x":-4450,"y":11,"n":62},{"x":-4350,"y":11,"n":113},{"x":-4250,"y":11,"n":62},{"x":-4150,"y":11,"n":106},{"x":-4050,"y":11,"n":106},{"x":-3950,"y":11,"n":113},{"x":-3850,"y":11,"n":77},{"x":-3750,"y":11,"n":99},{"x":-3650,"y":11,"n":99},{"x":-3550,"y":11,"n":113},{"x":-3450,"y":11,"n":106},{"x":-3350,"y":11,"n":113},{"x":-3250,"y":11,"n":91},{"x":-3150,"y":11,"n":91},{"x":-3050,"y":11,"n":91},{"x":-2950,"y":11,"n":91},{"x":-2850,"y":11,"n":106},{"x":-2750,"y":11,"n":113},{"x":-2650,"y":11,"n":77},{"x":-2550,"y":11,"n":91},{"x":-2450,"y":11,"n":91},{"x":-2350,"y":11,"n":77},{"x":-2250,"y":11,"n":84},{"x":-2150,"y":11,"n":91},{"x":-2050,"y":11,"n":62},{"x":-1950,"y":11,"n":55},{"x":-1850,"y":11,"n":55},{"x":-1750,"y":11,"n":55},{"x":-1650,"y":11,"n":47},{"x":-1550,"y":11,"n":55},{"x":-1450,"y":11,"n":55},{"x":-1350,"y":11,"n":33},{"x":-1250,"y":11,"n":47},{"x":-1150,"y":11,"n":47},{"x":-1050,"y":11,"n":40},{"x":-950,"y":11,"n":40},{"x":-850,"y":11,"n":40},{"x":-750,"y":11,"n":40},{"x":-650,"y":11,"n":33},{"x":-550,"y":11,"n":26},{"x":-450,"y":11,"n":33},{"x":-350,"y":11,"n":33},{"x":-250,"y":11,"n":18},{"x":-150,"y":11,"n":4},{"x":-50,"y":11,"n":4},{"x":50,"y":11,"n":4},{"x":150,"y":11,"n":11},{"x":250,"y":11,"n":18},{"x":350,"y":11,"n":18},{"x":450,"y":11,"n":18},{"x":550,"y":11,"n":18},{"x":650,"y":11,"n":26},{"x":750,"y":11,"n":33},{"x":850,"y":11,"n":40},{"x":950,"y":11,"n":55},{"x":1050,"y":11,"n":47},{"x":1150,"y":11,"n":47},{"x":1250,"y":11,"n":47},{"x":1350,"y":11,"n":40},{"x":1450,"y":11,"n":33},{"x":1550,"y":11,"n":55},{"x":1650,"y":11,"n":55},{"x":1750,"y":11,"n":62},{"x":1850,"y":11,"n":77},{"x":1950,"y":11,"n":55},{"x":2050,"y":11,"n":69},{"x":2150,"y":11,"n":113},{"x":2250,"y":11,"n":55},{"x":2350,"y":11,"n":91},{"x":2450,"y":11,"n":77},{"x":2550,"y":11,"n":77},{"x":2650,"y":11,"n":99},{"x":2750,"y":11,"n":113},{"x":2850,"y":11,"n":113},{"x":2950,"y":11,"n":91},{"x":3050,"y":11,"n":113},{"x":3150,"y":11,"n":77},{"x":3250,"y":11,"n":77},{"x":3350,"y":11,"n":91},{"x":3450,"y":11,"n":84},{"x":3550,"y":11,"n":106},{"x":3650,"y":11,"n":106},{"x":3750,"y":11,"n":77},{"x":3850,"y":11,"n":99},{"x":3950,"y":11,"n":99},{"x":4050,"y":11,"n":106},{"x":4150,"y":11,"n":99},{"x":4250,"y":11,"n":77},{"x":4350,"y":11,"n":84},{"x":4450,"y":11,"n":91},{"x":4550,"y":11,"n":113},{"x":4650,"y":11,"n":77},{"x":4750,"y":11,"n":77},{"x":4850,"y":11,"n":84},{"x":4950,"y":11,"n":62},
{"x":-4950,"y":12,"n":91},{"x":-4850,"y":12,"n":69},{"x":-4750,"y":12,"n":106},{"x":-4650,"y":12,"n":62},{"x":-4550,"y":12,"n":106},{"x":-4450,"y":12,"n":91},{"x":-4350,"y":12,"n":77},{"x":-4250,"y":12,"n":120},{"x":-4150,"y":12,"n":55},{"x":-4050,"y":12,"n":62},{"x":-3950,"y":12,"n":77},{"x":-3850,"y":12,"n":69},{"x":-3750,"y":12,"n":40},{"x":-3650,"y":12,"n":47},{"x":-3550,"y":12,"n":62},{"x":-3450,"y":12,"n":55},{"x":-3350,"y":12,"n":62},{"x":-3250,"y":12,"n":47},{"x":-3150,"y":12,"n":62},{"x":-3050,"y":12,"n":55},{"x":-2950,"y":12,"n":62},{"x":-2850,"y":12,"n":62},{"x":-2750,"y":12,"n":55},{"x":-2650,"y":12,"n":55},{"x":-2550,"y":12,"n":55},{"x":-2450,"y":12,"n":47},{"x":-2350,"y":12,"n":40},{"x":-2250,"y":12,"n":55},{"x":-2150,"y":12,"n":47},{"x":-2050,"y":12,"n":47},{"x":-1950,"y":12,"n":47},{"x":-1850,"y":12,"n":40},{"x":-1750,"y":12,"n":40},{"x":-1650,"y":12,"n":26},{"x":-1550,"y":12,"n":40},{"x":-1450,"y":12,"n":33},{"x":-1350,"y":12,"n":40},{"x":-1250,"y":12,"n":47},{"x":-1150,"y":12,"n":47},{"x":-1050,"y":12,"n":26},{"x":-950,"y":12,"n":18},{"x":-850,"y":12,"n":26},{"x":-750,"y":12,"n":26},{"x":-650,"y":12,"n":18},{"x":-550,"y":12,"n":18},{"x":-450,"y":12,"n":11},{"x":-350,"y":12,"n":11},{"x":-250,"y":12,"n":11},{"x":-150,"y":12,"n":4},{"x":50,"y":12,"n":4},{"x":150,"y":12,"n":4},{"x":250,"y":12,"n":4},{"x":350,"y":12,"n":11},{"x":450,"y":12,"n":18},{"x":550,"y":12,"n":18},{"x":650,"y":12,"n":18},{"x":750,"y":12,"n":18},{"x":850,"y":12,"n":26},{"x":950,"y":12,"n":18},{"x":1050,"y":12,"n":33},{"x":1150,"y":12,"n":33},{"x":1250,"y":12,"n":33},{"x":1350,"y":12,"n":33},{"x":1450,"y":12,"n":40},{"x":1550,"y":12,"n":40},{"x":1650,"y":12,"n":40},{"x":1750,"y":12,"n":62},{"x":1850,"y":12,"n":62},{"x":1950,"y":12,"n":33},{"x":2050,"y":12,"n":47},{"x":2150,"y":12,"n":47},{"x":2250,"y":12,"n":40},{"x":2350,"y":12,"n":55},{"x":2450,"y":12,"n":33},{"x":2550,"y":12,"n":40},{"x":2650,"y":12,"n":55},{"x":2750,"y":12,"n":47},{"x":2850,"y":12,"n":47},{"x":2950,"y":12,"n":62},{"x":3050,"y":12,"n":40},{"x":3150,"y":12,"n":69},{"x":3250,"y":12,"n":69},{"x":3350,"y":12,"n":55},{"x":3450,"y":12,"n":62},{"x":3550,"y":12,"n":69},{"x":3650,"y":12,"n":77},{"x":3750,"y":12,"n":55},{"x":3850,"y":12,"n":55},{"x":3950,"y":12,"n":69},{"x":4050,"y":12,"n":69},{"x":4150,"y":12,"n":47},{"x":4250,"y":12,"n":113},{"x":4350,"y":12,"n":69},{"x":4450,"y":12,"n":77},{"x":4550,"y":12,"n":120},{"x":4650,"y":12,"n":55},{"x":4750,"y":12,"n":142},{"x":4850,"y":12,"n":69},{"x":4950,"y":12,"n":113},
{"x":-4950,"y":13,"n":33},{"x":-4850,"y":13,"n":55},{"x":-4750,"y":13,"n":47},{"x":-4650,"y":13,"n":33},{"x":-4550,"y":13,"n":55},{"x":-4450,"y":13,"n":26},{"x":-4350,"y":13,"n":62},{"x":-4250,"y":13,"n":62},{"x":-4150,"y":13,"n":33},{"x":-4050,"y":13,"n":40},{"x":-3950,"y":13,"n":47},{"x":-3850,"y":13,"n":40},{"x":-3750,"y":13,"n":40},{"x":-3650,"y":13,"n":55},{"x":-3550,"y":13,"n":40},{"x":-3450,"y":13,"n":55},{"x":-3350,"y":13,"n":47},{"x":-3250,"y":13,"n":40},{"x":-3150,"y":13,"n":55},{"x":-3050,"y":13,"n":47},{"x":-2950,"y":13,"n":47},{"x":-2850,"y":13,"n":40},{"x":-2750,"y":13,"n":33},{"x":-2650,"y":13,"n":40},{"x":-2550,"y":13,"n":26},{"x":-2450,"y":13,"n":47},{"x":-2350,"y":13,"n":47},{"x":-2250,"y":13,"n":47},{"x":-2150,"y":13,"n":26},{"x":-2050,"y":13,"n":18},{"x":-1950,"y":13,"n":26},{"x":-1850,"y":13,"n":33},{"x":-1750,"y":13,"n":40},{"x":-1650,"y":13,"n":18},{"x":-1550,"y":13,"n":18},{"x":-1450,"y":13,"n":11},{"x":-1350,"y":13,"n":26},{"x":-1250,"y":13,"n":18},{"x":-1150,"y":13,"n":26},{"x":-1050,"y":13,"n":18},{"x":-950,"y":13,"n":11},{"x":-850,"y":13,"n":11},{"x":-750,"y":13,"n":11},{"x":-650,"y":13,"n":4},{"x":-550,"y":13,"n":11},{"x":-450,"y":13,"n":4},{"x":-350,"y":13,"n":4},{"x":-250,"y":13,"n":4},{"x":-50,"y":13,"n":4},{"x":50,"y":13,"n":4},{"x":150,"y":13,"n":4},{"x":250,"y":13,"n":4},{"x":350,"y":13,"n":4},{"x":450,"y":13,"n":4},{"x":550,"y":13,"n":4},{"x":650,"y":13,"n":4},{"x":750,"y":13,"n":4},{"x":850,"y":13,"n":11},{"x":950,"y":13,"n":11},{"x":1050,"y":13,"n":11},{"x":1150,"y":13,"n":26},{"x":1250,"y":13,"n":11},{"x":1350,"y":13,"n":18},{"x":1450,"y":13,"n":18},{"x":1550,"y":13,"n":11},{"x":1650,"y":13,"n":18},{"x":1750,"y":13,"n":26},{"x":1850,"y":13,"n":26},{"x":1950,"y":13,"n":26},{"x":2050,"y":13,"n":26},{"x":2150,"y":13,"n":40},{"x":2250,"y":13,"n":47},{"x":2350,"y":13,"n":18},{"x":2450,"y":13,"n":33},{"x":2550,"y":13,"n":40},{"x":2650,"y":13,"n":33},{"x":2750,"y":13,"n":33},{"x":2850,"y":13,"n":47},{"x":2950,"y":13,"n":47},{"x":3050,"y":13,"n":40},{"x":3150,"y":13,"n":55},{"x":3250,"y":13,"n":26},{"x":3350,"y":13,"n":40},{"x":3450,"y":13,"n":47},{"x":3550,"y":13,"n":47},{"x":3650,"y":13,"n":47},{"x":3750,"y":13,"n":55},{"x":3850,"y":13,"n":26},{"x":3950,"y":13,"n":40},{"x":4050,"y":13,"n":47},{"x":4150,"y":13,"n":40},{"x":4250,"y":13,"n":55},{"x":4350,"y":13,"n":55},{"x":4450,"y":13,"n":18},{"x":4550,"y":13,"n":62},{"x":4650,"y":13,"n":33},{"x":4750,"y":13,"n":55},{"x":4850,"y":13,"n":47},{"x":4950,"y":13,"n":40},
{"x":-4950,"y":14,"n":40},{"x":-4850,"y":14,"n":26},{"x":-4750,"y":14,"n":47},{"x":-4650,"y":14,"n":18},{"x":-4550,"y":14,"n":47},{"x":-4450,"y":14,"n":40},{"x":-4350,"y":14,"n":18},{"x":-4250,"y":14,"n":47},{"x":-4150,"y":14,"n":18},{"x":-4050,"y":14,"n":26},{"x":-3950,"y":14,"n":18},{"x":-3850,"y":14,"n":26},{"x":-3750,"y":14,"n":18},{"x":-3650,"y":14,"n":26},{"x":-3550,"y":14,"n":26},{"x":-3450,"y":14,"n":18},{"x":-3350,"y":14,"n":18},{"x":-3250,"y":14,"n":18},{"x":-3150,"y":14,"n":26},{"x":-3050,"y":14,"n":18},{"x":-2950,"y":14,"n":18},{"x":-2850,"y":14,"n":26},{"x":-2750,"y":14,"n":18},{"x":-2650,"y":14,"n":18},{"x":-2550,"y":14,"n":11},{"x":-2450,"y":14,"n":18},{"x":-2350,"y":14,"n":18},{"x":-2250,"y":14,"n":18},{"x":-2150,"y":14,"n":11},{"x":-2050,"y":14,"n":11},{"x":-1950,"y":14,"n":11},{"x":-1850,"y":14,"n":11},{"x":-1750,"y":14,"n":11},{"x":-1650,"y":14,"n":11},{"x":-1550,"y":14,"n":11},{"x":-1450,"y":14,"n":11},{"x":-1350,"y":14,"n":11},{"x":-1250,"y":14,"n":4},{"x":-1150,"y":14,"n":11},{"x":-1050,"y":14,"n":4},{"x":-950,"y":14,"n":4},{"x":-850,"y":14,"n":4},{"x":-750,"y":14,"n":4},{"x":-650,"y":14,"n":4},{"x":-550,"y":14,"n":4},{"x":-450,"y":14,"n":4},{"x":-350,"y":14,"n":4},{"x":-250,"y":14,"n":4},{"x":-150,"y":14,"n":4},{"x":-50,"y":14,"n":4},{"x":150,"y":14,"n":4},{"x":250,"y":14,"n":4},{"x":350,"y":14,"n":4},{"x":450,"y":14,"n":4},{"x":550,"y":14,"n":11},{"x":650,"y":14,"n":4},{"x":750,"y":14,"n":4},{"x":850,"y":14,"n":4},{"x":950,"y":14,"n":4},{"x":1050,"y":14,"n":11},{"x":1150,"y":14,"n":4},{"x":1250,"y":14,"n":18},{"x":1350,"y":14,"n":11},{"x":1450,"y":14,"n":4},{"x":1550,"y":14,"n":11},{"x":1650,"y":14,"n":11},{"x":1750,"y":14,"n":11},{"x":1850,"y":14,"n":11},{"x":1950,"y":14,"n":18},{"x":2050,"y":14,"n":11},{"x":2150,"y":14,"n":18},{"x":2250,"y":14,"n":33},{"x":2350,"y":14,"n":26},{"x":2450,"y":14,"n":11},{"x":2550,"y":14,"n":18},{"x":2650,"y":14,"n":26},{"x":2750,"y":14,"n":18},{"x":2850,"y":14,"n":26},{"x":2950,"y":14,"n":33},{"x":3050,"y":14,"n":26},{"x":3150,"y":14,"n":18},{"x":3250,"y":14,"n":18},{"x":3350,"y":14,"n":26},{"x":3450,"y":14,"n":26},{"x":3550,"y":14,"n":26},{"x":3650,"y":14,"n":26},{"x":3750,"y":14,"n":26},{"x":3850,"y":14,"n":18},{"x":3950,"y":14,"n":26},{"x":4050,"y":14,"n":40},{"x":4150,"y":14,"n":26},{"x":4250,"y":14,"n":47},{"x":4350,"y":14,"n":26},{"x":4450,"y":14,"n":33},{"x":4550,"y":14,"n":40},{"x":4650,"y":14,"n":18},{"x":4750,"y":14,"n":55},{"x":4850,"y":14,"n":18},{"x":4950,"y":14,"n":47},
{"x":-4950,"y":15,"n":18},{"x":-4850,"y":15,"n":18},{"x":-4750,"y":15,"n":33},{"x":-4650,"y":15,"n":11},{"x":-4550,"y":15,"n":33},{"x":-4450,"y":15,"n":18},{"x":-4350,"y":15,"n":11},{"x":-4250,"y":15,"n":33},{"x":-4150,"y":15,"n":4},{"x":-4050,"y":15,"n":4},{"x":-3950,"y":15,"n":11},{"x":-3850,"y":15,"n":4},{"x":-3750,"y":15,"n":11},{"x":-3650,"y":15,"n":11},{"x":-3550,"y":15,"n":11},{"x":-3450,"y":15,"n":18},{"x":-3350,"y":15,"n":4},{"x":-3250,"y":15,"n":4},{"x":-3150,"y":15,"n":4},{"x":-3050,"y":15,"n":11},{"x":-2950,"y":15,"n":11},{"x":-2850,"y":15,"n":11},{"x":-2750,"y":15,"n":11},{"x":-2650,"y":15,"n":11},{"x":-2550,"y":15,"n":11},{"x":-2450,"y":15,"n":4},{"x":-2350,"y":15,"n":11},{"x":-2250,"y":15,"n":11},{"x":-2150,"y":15,"n":4},{"x":-2050,"y":15,"n":4},{"x":-1950,"y":15,"n":4},{"x":-1850,"y":15,"n":4},{"x":-1750,"y":15,"n":4},{"x":-1650,"y":15,"n":4},{"x":-1550,"y":15,"n":4},{"x":-1450,"y":15,"n":4},{"x":-1350,"y":15,"n":4},{"x":-1250,"y":15,"n":11},{"x":-1150,"y":15,"n":4},{"x":-1050,"y":15,"n":4},{"x":-950,"y":15,"n":4},{"x":-850,"y":15,"n":4},{"x":-750,"y":15,"n":4},{"x":-650,"y":15,"n":4},{"x":-550,"y":15,"n":4},{"x":-450,"y":15,"n":4},{"x":-350,"y":15,"n":4},{"x":-250,"y":15,"n":4},{"x":-150,"y":15,"n":4},{"x":450,"y":15,"n":4},{"x":550,"y":15,"n":4},{"x":650,"y":15,"n":4},{"x":750,"y":15,"n":4},{"x":950,"y":15,"n":4},{"x":1050,"y":15,"n":4},{"x":1150,"y":15,"n":4},{"x":1250,"y":15,"n":4},{"x":1350,"y":15,"n":4},{"x":1450,"y":15,"n":4},{"x":1550,"y":15,"n":4},{"x":1650,"y":15,"n":4},{"x":1750,"y":15,"n":4},{"x":1850,"y":15,"n":4},{"x":1950,"y":15,"n":4},{"x":2050,"y":15,"n":11},{"x":2150,"y":15,"n":11},{"x":2250,"y":15,"n":4},{"x":2350,"y":15,"n":11},{"x":2450,"y":15,"n":4},{"x":2550,"y":15,"n":11},{"x":2650,"y":15,"n":4},{"x":2750,"y":15,"n":18},{"x":2850,"y":15,"n":18},{"x":2950,"y":15,"n":4},{"x":3050,"y":15,"n":11},{"x":3150,"y":15,"n":4},{"x":3250,"y":15,"n":4},{"x":3350,"y":15,"n":11},{"x":3450,"y":15,"n":11},{"x":3550,"y":15,"n":11},{"x":3650,"y":15,"n":11},{"x":3750,"y":15,"n":11},{"x":3850,"y":15,"n":11},{"x":3950,"y":15,"n":18},{"x":4050,"y":15,"n":4},{"x":4150,"y":15,"n":26},{"x":4250,"y":15,"n":18},{"x":4350,"y":15,"n":18},{"x":4450,"y":15,"n":33},{"x":4550,"y":15,"n":11},{"x":4650,"y":15,"n":33},{"x":4750,"y":15,"n":11},{"x":4850,"y":15,"n":18},
{"x":-4950,"y":16,"n":18},{"x":-4850,"y":16,"n":11},{"x":-4750,"y":16,"n":18},{"x":-4650,"y":16,"n":4},{"x":-4550,"y":16,"n":11},{"x":-4450,"y":16,"n":4},{"x":-4350,"y":16,"n":11},{"x":-4250,"y":16,"n":11},{"x":-4150,"y":16,"n":4},{"x":-4050,"y":16,"n":4},{"x":-3950,"y":16,"n":4},{"x":-3850,"y":16,"n":4},{"x":-3750,"y":16,"n":4},{"x":-3650,"y":16,"n":4},{"x":-3550,"y":16,"n":11},{"x":-3450,"y":16,"n":11},{"x":-3350,"y":16,"n":4},{"x":-3250,"y":16,"n":4},{"x":-3150,"y":16,"n":11},{"x":-3050,"y":16,"n":4},{"x":-2950,"y":16,"n":4},{"x":-2850,"y":16,"n":4},{"x":-2750,"y":16,"n":4},{"x":-2650,"y":16,"n":4},{"x":-2550,"y":16,"n":4},{"x":-2450,"y":16,"n":4},{"x":-2350,"y":16,"n":11},{"x":-2250,"y":16,"n":4},{"x":-2150,"y":16,"n":4},{"x":-2050,"y":16,"n":4},{"x":-1950,"y":16,"n":4},{"x":-1750,"y":16,"n":4},{"x":-1650,"y":16,"n":4},{"x":-1550,"y":16,"n":4},{"x":-1450,"y":16,"n":4},{"x":-1350,"y":16,"n":4},{"x":-1250,"y":16,"n":4},{"x":-1150,"y":16,"n":4},{"x":-1050,"y":16,"n":4},{"x":-950,"y":16,"n":4},{"x":-850,"y":16,"n":4},{"x":-750,"y":16,"n":4},{"x":-650,"y":16,"n":4},{"x":-550,"y":16,"n":4},{"x":-450,"y":16,"n":4},{"x":-350,"y":16,"n":4},{"x":-250,"y":16,"n":4},{"x":150,"y":16,"n":4},{"x":450,"y":16,"n":4},{"x":550,"y":16,"n":4},{"x":650,"y":16,"n":4},{"x":750,"y":16,"n":4},{"x":850,"y":16,"n":4},{"x":950,"y":16,"n":4},{"x":1050,"y":16,"n":4},{"x":1150,"y":16,"n":4},{"x":1250,"y":16,"n":4},{"x":1350,"y":16,"n":4},{"x":1450,"y":16,"n":4},{"x":1550,"y":16,"n":4},{"x":1650,"y":16,"n":11},{"x":1750,"y":16,"n":4},{"x":1850,"y":16,"n":4},{"x":1950,"y":16,"n":4},{"x":2050,"y":16,"n":4},{"x":2150,"y":16,"n":4},{"x":2250,"y":16,"n":4},{"x":2350,"y":16,"n":4},{"x":2450,"y":16,"n":4},{"x":2550,"y":16,"n":4},{"x":2650,"y":16,"n":4},{"x":2750,"y":16,"n":4},{"x":2850,"y":16,"n":11},{"x":2950,"y":16,"n":11},{"x":3050,"y":16,"n":11},{"x":3150,"y":16,"n":4},{"x":3250,"y":16,"n":4},{"x":3350,"y":16,"n":11},{"x":3450,"y":16,"n":4},{"x":3550,"y":16,"n":4},{"x":3650,"y":16,"n":4},{"x":3750,"y":16,"n":4},{"x":3850,"y":16,"n":4},{"x":3950,"y":16,"n":11},{"x":4050,"y":16,"n":4},{"x":4150,"y":16,"n":4},{"x":4250,"y":16,"n":18},{"x":4350,"y":16,"n":11},{"x":4450,"y":16,"n":11},{"x":4550,"y":16,"n":11},{"x":4650,"y":16,"n":4},{"x":4750,"y":16,"n":11},{"x":4850,"y":16,"n":4},{"x":4950,"y":16,"n":11},
{"x":-4950,"y":17,"n":4},{"x":-4850,"y":17,"n":4},{"x":-4750,"y":17,"n":4},{"x":-4650,"y":17,"n":4},{"x":-4550,"y":17,"n":4},{"x":-4450,"y":17,"n":4},{"x":-4350,"y":17,"n":4},{"x":-4250,"y":17,"n":4},{"x":-4150,"y":17,"n":4},{"x":-4050,"y":17,"n":4},{"x":-3950,"y":17,"n":4},{"x":-3850,"y":17,"n":4},{"x":-3650,"y":17,"n":4},{"x":-3550,"y":17,"n":4},{"x":-3450,"y":17,"n":4},{"x":-3350,"y":17,"n":4},{"x":-3250,"y":17,"n":4},{"x":-3150,"y":17,"n":4},{"x":-3050,"y":17,"n":4},{"x":-2950,"y":17,"n":4},{"x":-2850,"y":17,"n":4},{"x":-2750,"y":17,"n":4},{"x":-2650,"y":17,"n":4},{"x":-2550,"y":17,"n":4},{"x":-2450,"y":17,"n":4},{"x":-2350,"y":17,"n":4},{"x":-2250,"y":17,"n":4},{"x":-2150,"y":17,"n":4},{"x":-2050,"y":17,"n":4},{"x":-1950,"y":17,"n":4},{"x":-1850,"y":17,"n":4},{"x":-1750,"y":17,"n":4},{"x":-1350,"y":17,"n":4},{"x":-1150,"y":17,"n":4},{"x":-850,"y":17,"n":4},{"x":-550,"y":17,"n":4},{"x":-350,"y":17,"n":4},{"x":-250,"y":17,"n":4},{"x":250,"y":17,"n":4},{"x":550,"y":17,"n":4},{"x":650,"y":17,"n":4},{"x":850,"y":17,"n":4},{"x":1050,"y":17,"n":4},{"x":1150,"y":17,"n":4},{"x":1350,"y":17,"n":4},{"x":1450,"y":17,"n":4},{"x":1550,"y":17,"n":4},{"x":1650,"y":17,"n":4},{"x":1750,"y":17,"n":4},{"x":1850,"y":17,"n":4},{"x":1950,"y":17,"n":4},{"x":2050,"y":17,"n":4},{"x":2150,"y":17,"n":4},{"x":2250,"y":17,"n":4},{"x":2350,"y":17,"n":4},{"x":2450,"y":17,"n":4},{"x":2550,"y":17,"n":4},{"x":2650,"y":17,"n":4},{"x":2750,"y":17,"n":4},{"x":2850,"y":17,"n":4},{"x":2950,"y":17,"n":4},{"x":3050,"y":17,"n":4},{"x":3150,"y":17,"n":4},{"x":3250,"y":17,"n":4},{"x":3350,"y":17,"n":4},{"x":3450,"y":17,"n":4},{"x":3550,"y":17,"n":4},{"x":3650,"y":17,"n":4},{"x":3750,"y":17,"n":4},{"x":3850,"y":17,"n":4},{"x":3950,"y":17,"n":4},{"x":4050,"y":17,"n":4},{"x":4150,"y":17,"n":4},{"x":4250,"y":17,"n":4},{"x":4350,"y":17,"n":4},{"x":4450,"y":17,"n":4},{"x":4550,"y":17,"n":4},{"x":4650,"y":17,"n":4},{"x":4750,"y":17,"n":4},{"x":4850,"y":17,"n":4},{"x":4950,"y":17,"n":4},
{"x":-4950,"y":18,"n":4},{"x":-4850,"y":18,"n":4},{"x":-4750,"y":18,"n":4},{"x":-4550,"y":18,"n":4},{"x":-4450,"y":18,"n":4},{"x":-4350,"y":18,"n":4},{"x":-4250,"y":18,"n":4},{"x":-4150,"y":18,"n":4},{"x":-4050,"y":18,"n":4},{"x":-3850,"y":18,"n":4},{"x":-3750,"y":18,"n":4},{"x":-3550,"y":18,"n":4},{"x":-3450,"y":18,"n":4},{"x":-3250,"y":18,"n":4},{"x":-3150,"y":18,"n":4},{"x":-3050,"y":18,"n":4},{"x":-2950,"y":18,"n":4},{"x":-2850,"y":18,"n":4},{"x":-2750,"y":18,"n":4},{"x":-2650,"y":18,"n":4},{"x":-2550,"y":18,"n":4},{"x":-2450,"y":18,"n":4},{"x":-2350,"y":18,"n":4},{"x":-2250,"y":18,"n":4},{"x":-1750,"y":18,"n":4},{"x":-1550,"y":18,"n":4},{"x":-1450,"y":18,"n":4},{"x":-1150,"y":18,"n":4},{"x":-850,"y":18,"n":4},{"x":-750,"y":18,"n":4},{"x":-250,"y":18,"n":4},{"x":-150,"y":18,"n":4},{"x":650,"y":18,"n":4},{"x":750,"y":18,"n":4},{"x":1050,"y":18,"n":4},{"x":1150,"y":18,"n":4},{"x":1350,"y":18,"n":4},{"x":1450,"y":18,"n":4},{"x":1550,"y":18,"n":4},{"x":1650,"y":18,"n":4},{"x":1750,"y":18,"n":4},{"x":2050,"y":18,"n":4},{"x":2150,"y":18,"n":4},{"x":2250,"y":18,"n":4},{"x":2350,"y":18,"n":4},{"x":2450,"y":18,"n":4},{"x":2750,"y":18,"n":4},{"x":2850,"y":18,"n":4},{"x":2950,"y":18,"n":4},{"x":3050,"y":18,"n":4},{"x":3150,"y":18,"n":4},{"x":3250,"y":18,"n":4},{"x":3350,"y":18,"n":4},{"x":3550,"y":18,"n":4},{"x":3650,"y":18,"n":4},{"x":3750,"y":18,"n":4},{"x":3850,"y":18,"n":4},{"x":4250,"y":18,"n":4},{"x":4350,"y":18,"n":4},{"x":4450,"y":18,"n":4},{"x":4550,"y":18,"n":4},{"x":4650,"y":18,"n":4},{"x":4750,"y":18,"n":4},{"x":4850,"y":18,"n":4},{"x":4950,"y":18,"n":4},
{"x":-4950,"y":19,"n":4},{"x":-4750,"y":19,"n":4},{"x":-4650,"y":19,"n":4},{"x":-4550,"y":19,"n":4},{"x":-4250,"y":19,"n":4},{"x":-4050,"y":19,"n":4},{"x":-3850,"y":19,"n":4},{"x":-3750,"y":19,"n":4},{"x":-3450,"y":19,"n":4},{"x":-3250,"y":19,"n":4},{"x":-3150,"y":19,"n":4},{"x":-3050,"y":19,"n":4},{"x":-2950,"y":19,"n":4},{"x":-2650,"y":19,"n":4},{"x":-2350,"y":19,"n":4},{"x":-2150,"y":19,"n":4},{"x":-1550,"y":19,"n":4},{"x":-50,"y":19,"n":4},{"x":850,"y":19,"n":4},{"x":1550,"y":19,"n":4},{"x":2150,"y":19,"n":4},{"x":2250,"y":19,"n":4},{"x":2650,"y":19,"n":4},{"x":2750,"y":19,"n":4},{"x":2850,"y":19,"n":4},{"x":3050,"y":19,"n":4},{"x":3150,"y":19,"n":4},{"x":3250,"y":19,"n":4},{"x":3550,"y":19,"n":4},{"x":3750,"y":19,"n":4},{"x":4050,"y":19,"n":4},{"x":4250,"y":19,"n":4},{"x":4350,"y":19,"n":4},{"x":4450,"y":19,"n":4},{"x":4550,"y":19,"n":4},{"x":4850,"y":19,"n":4},{"x":4950,"y":19,"n":4},
{"x":-4550,"y":20,"n":4},{"x":-4450,"y":20,"n":4},{"x":-4050,"y":20,"n":4},{"x":-3750,"y":20,"n":4},{"x":-3450,"y":20,"n":4},{"x":-3150,"y":20,"n":4},{"x":-2950,"y":20,"n":4},{"x":-2850,"y":20,"n":4},{"x":-2350,"y":20,"n":4},{"x":-1450,"y":20,"n":4},{"x":-950,"y":20,"n":4},{"x":1150,"y":20,"n":4},{"x":1450,"y":20,"n":4},{"x":1550,"y":20,"n":4},{"x":2250,"y":20,"n":4},{"x":2350,"y":20,"n":4},{"x":3150,"y":20,"n":4},{"x":3250,"y":20,"n":4},{"x":3350,"y":20,"n":4},{"x":3650,"y":20,"n":4},{"x":3750,"y":20,"n":4},{"x":3850,"y":20,"n":4},{"x":4550,"y":20,"n":4},{"x":4750,"y":20,"n":4},{"x":4850,"y":20,"n":4},{"x":4950,"y":20,"n":4},
{"x":-4750,"y":21,"n":4},{"x":-3550,"y":21,"n":4},{"x":-2450,"y":21,"n":4},{"x":1250,"y":21,"n":4},{"x":1650,"y":21,"n":4},{"x":2350,"y":21,"n":4},{"x":3750,"y":21,"n":4},{"x":3950,"y":21,"n":4},{"x":4550,"y":21,"n":4},{"x":4850,"y":21,"n":4},
{"x":-4950,"y":22,"n":4},{"x":1650,"y":22,"n":4},{"x":3250,"y":22,"n":4},{"x":4250,"y":22,"n":4},{"x":4350,"y":22,"n":4},{"x":4550,"y":22,"n":4},
{"x":-2850,"y":23,"n":4},{"x":2850,"y":23,"n":4},{"x":3850,"y":23,"n":4},
{"x":3650,"y":26,"n":4},
{"x":-4450,"y":31,"n":4},{"x":-3950,"y":31,"n":4}
]},"layer":[{"mark":{"type":"rect","width":7.06,"height":20.45},"encoding":{"x":{"field":"x","type":"quantitative","scale":{"domain":[-5000,5000],"nice":false},"axis":{"values":[-5000,-4000,-3000,-2000,-1000,0,1000,2000,3000,4000,5000],"labelExpr":"''+datum.value","grid":false,"tickSize":-20,"tickColor":"#222","tickWidth":1.5,"domainColor":"#222","domainWidth":2,"labelFontSize":30,"labelFontWeight":"bold","labelColor":"black","labelPadding":24,"labelOverlap":false,"labelBound":false,"labelFlush":false,"title":"Input","titleFontSize":31,"titleFontWeight":"bold","titleColor":"black","titleAlign":"right","titleAnchor":"end","titleX":703,"titleY":38,"zindex":1}},"y":{"field":"y","type":"quantitative","scale":{"domain":[-0.5,32.5],"nice":false},"axis":{"values":[0,5,10,15,20,25,30],"grid":false,"tickSize":-21,"tickColor":"#222","tickWidth":1.5,"domainColor":"#222","domainWidth":2,"labelFontSize":29,"labelFontWeight":"bold","labelColor":"black","labelPadding":27,"labelOverlap":false,"labelBound":false,"labelFlush":false,"title":"Diffbit","titleFontSize":31,"titleFontWeight":"bold","titleColor":"black","titleAnchor":"end","titleAlign":"right","titleX":-38,"titleY":-3,"zindex":1}},"color":{"field":"n","type":"quantitative","legend":null,"scale":{"type":"threshold","domain":[7.3,14.6,21.9,29.2,36.5,43.8,51.1,58.4,65.7,73,80.3,87.6,94.9,102.2,109.5,116.8,124.1,131.4,138.7],"range":["#6600ff","#3300ff","#0000ff","#0055ff","#0088ff","#00bbff","#00ffff","#00ffcc","#00ff99","#00ff66","#00ff33","#00ff00","#66ff00","#99ff00","#ddff00","#ffe600","#ffaa00","#ff8000","#ff3300","#ff0000"]}}}},{"data":{"values":[{"x":60,"y":25.2,"t":"VC VS Libm"}]},"mark":{"type":"text","font":"Lato","fontStyle":"italic","fontSize":45,"color":"#fb6a12"},"encoding":{"text":{"field":"t"},"x":{"field":"x","type":"quantitative","axis":{"orient":"bottom","values":[-4800,-4600,-4400,-4200,-3800,-3600,-3400,-3200,-2800,-2600,-2400,-2200,-1800,-1600,-1400,-1200,-800,-600,-400,-200,200,400,600,800,1200,1400,1600,1800,2200,2400,2600,2800,3200,3400,3600,3800,4200,4400,4600,4800],"labels":false,"domain":false,"grid":false,"title":null,"tickSize":-10,"tickColor":"#222","tickWidth":1.5,"zindex":1}},"y":{"field":"y","type":"quantitative","axis":{"orient":"left","values":[1,2,3,4,6,7,8,9,11,12,13,14,16,17,18,19,21,22,23,24,26,27,28,29,31,32],"labels":false,"domain":false,"grid":false,"title":null,"tickSize":-10,"tickColor":"#222","tickWidth":1.5,"zindex":1}}}}],"resolve":{"axis":{"x":"independent","y":"independent"}}},{"width":40,"height":673.7,"view":{"stroke":null},"resolve":{"axis":{"y":"independent"}},"layer":[{"data":{"values":[{"lo":0,"hi":7.3,"n":3.6},{"lo":7.3,"hi":14.6,"n":11},{"lo":14.6,"hi":21.9,"n":18},{"lo":21.9,"hi":29.2,"n":25},{"lo":29.2,"hi":36.5,"n":33},{"lo":36.5,"hi":43.8,"n":40},{"lo":43.8,"hi":51.1,"n":47},{"lo":51.1,"hi":58.4,"n":55},{"lo":58.4,"hi":65.7,"n":62},{"lo":65.7,"hi":73,"n":69},{"lo":73,"hi":80.3,"n":77},{"lo":80.3,"hi":87.6,"n":84},{"lo":87.6,"hi":94.9,"n":91},{"lo":94.9,"hi":102.2,"n":99},{"lo":102.2,"hi":109.5,"n":106},{"lo":109.5,"hi":116.8,"n":113},{"lo":116.8,"hi":124.1,"n":120}]},"mark":{"type":"rect"},"encoding":{"x":{"datum":0,"type":"quantitative","scale":{"domain":[0,1],"nice":false},"axis":{"labels":false,"ticks":false,"grid":false,"title":null,"domainColor":"#222","domainWidth":1.5}},"x2":{"datum":1},"y":{"field":"lo","type":"quantitative","scale":{"domain":[0,145.5],"nice":false},"axis":{"orient":"right","values":[0,20,40,60,80,100,120,140],"grid":false,"tickSize":-22,"tickOpacity":0,"domainColor":"#222","domainWidth":2,"labelFontSize":29,"labelFontWeight":"bold","labelColor":"black","labelPadding":27,"labelOverlap":false,"labelBound":false,"labelFlush":false,"title":null,"zindex":0}},"y2":{"field":"hi"},"color":{"field":"n","type":"quantitative","legend":null,"scale":{"type":"threshold","domain":[7.3,14.6,21.9,29.2,36.5,43.8,51.1,58.4,65.7,73,80.3,87.6,94.9,102.2,109.5,116.8,124.1,131.4,138.7],"range":["#6600ff","#3300ff","#0000ff","#0055ff","#0088ff","#00bbff","#00ffff","#00ffcc","#00ff99","#00ff66","#00ff33","#00ff00","#66ff00","#99ff00","#ddff00","#ffe600","#ffaa00","#ff8000","#ff3300","#ff0000"]}}}},{"data":{"values":[{"a":-2.75,"b":1.675,"c":119.2,"d":147.2}]},"mark":{"type":"rect","fill":"white","stroke":"#222","strokeWidth":2,"clip":false},"encoding":{"x":{"field":"a","type":"quantitative"},"x2":{"field":"b"},"y":{"field":"c","type":"quantitative","axis":{"orient":"right","values":[0,20,40,60,80,100],"labels":false,"domain":false,"grid":false,"title":null,"tickSize":-22,"tickColor":"#222","tickWidth":1.5,"zindex":1}},"y2":{"field":"d"}}},{"data":{"values":[{"x":-2.525,"y":144.3,"t":"Mean x"},{"x":-2.525,"y":137.8,"t":"Mean y"},{"x":-2.525,"y":130,"t":"RMS x"},{"x":-2.525,"y":123.1,"t":"RMS y"}]},"mark":{"type":"text","align":"left","fontWeight":"bold","fontSize":20,"color":"#111"},"encoding":{"x":{"field":"x","type":"quantitative"},"y":{"field":"y","type":"quantitative","axis":null},"text":{"field":"t"}}},{"data":{"values":[{"x":1.3,"y":144.3,"t":"14.47"},{"x":1.3,"y":137.6,"t":"9.506"},{"x":1.3,"y":130,"t":"2883"},{"x":1.3,"y":122.9,"t":"2.89"}]},"mark":{"type":"text","align":"right","fontWeight":"bold","fontSize":20,"color":"#111"},"encoding":{"x":{"field":"x","type":"quantitative"},"y":{"field":"y","type":"quantitative","axis":null},"text":{"field":"t"}}}]}]}
